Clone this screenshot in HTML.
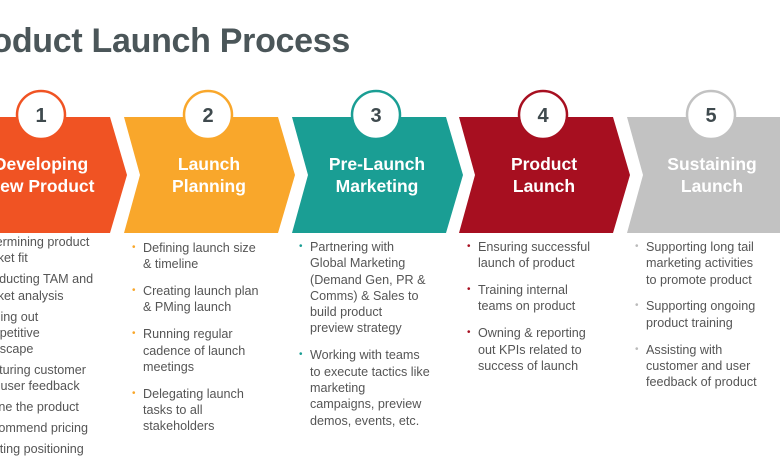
<!DOCTYPE html>
<html><head><meta charset="utf-8"><style>
body{margin:0;width:780px;height:470px;overflow:hidden;background:#fff;position:relative;font-family:"Liberation Sans",sans-serif}
.t{position:absolute;right:430px;top:22px;font-size:34px;font-weight:bold;color:#4b5659;white-space:nowrap;letter-spacing:-0.3px}
svg{position:absolute;left:0;top:0}
.h{position:absolute;top:153px;width:170px;text-align:center;color:#fff;font-weight:bold;font-size:17.5px;line-height:22px;white-space:nowrap}
ul{position:absolute;margin:0;padding:0;list-style:none;font-size:12.6px;line-height:16.3px;color:#555;white-space:nowrap}
li{position:relative;margin-bottom:10.6px}
li:before{content:"•";position:absolute;left:-11px;font-size:10px}
.c1 li{margin-bottom:4.7px}
</style></head><body>
<div class="t">Product Launch Process</div>
<svg width="780" height="470">
<polygon points="-60,117 110,117 127,175 110,233 -60,233" fill="#f05323"/>
<polygon points="124,117 278,117 295,175 278,233 124,233 140,175" fill="#f9a72b"/>
<polygon points="292,117 446,117 463,175 446,233 292,233 308,175" fill="#1a9e94"/>
<polygon points="459,117 613,117 630,175 613,233 459,233 475,175" fill="#a70f20"/>
<polygon points="627,117 800,117 800,233 627,233 643,175" fill="#c2c2c2"/>
<g stroke-width="2.5" fill="#fff">
<circle cx="41" cy="115" r="24" stroke="#f05323"/>
<circle cx="208" cy="115" r="24" stroke="#f9a72b"/>
<circle cx="376" cy="115" r="24" stroke="#1a9e94"/>
<circle cx="543" cy="115" r="24" stroke="#a70f20"/>
<circle cx="711" cy="115" r="24" stroke="#c2c2c2"/>
</g>
<g font-family="Liberation Sans" font-weight="bold" font-size="20" fill="#3f4a4e" text-anchor="middle">
<text x="41" y="122">1</text><text x="208" y="122">2</text><text x="376" y="122">3</text><text x="543" y="122">4</text><text x="711" y="122">5</text>
</g>
</svg>
<div class="h" style="left:-44px">Developing<br>New Product</div>
<div class="h" style="left:124px">Launch<br>Planning</div>
<div class="h" style="left:292px">Pre-Launch<br>Marketing</div>
<div class="h" style="left:459px">Product<br>Launch</div>
<div class="h" style="left:627px">Sustaining<br>Launch</div>
<ul class="c1" style="left:-24px;top:234px;color:#555">
<li style="color:#555">Determining product<br>market fit</li>
<li>Conducting TAM and<br>market analysis</li>
<li>Finding out<br>competitive<br>landscape</li>
<li>Capturing customer<br>and user feedback</li>
<li>Define the product</li>
<li>Recommend pricing</li>
<li>Drafting positioning</li>
</ul>
<style>.c2 li:before{color:#f9a72b}.c3 li:before{color:#1a9e94}.c4 li:before{color:#a70f20}.c5 li:before{color:#bbb}.c1 li:before{color:#f05323}</style>
<ul class="c2" style="left:143px;top:240px">
<li>Defining launch size<br>&amp; timeline</li>
<li>Creating launch plan<br>&amp; PMing launch</li>
<li>Running regular<br>cadence of launch<br>meetings</li>
<li>Delegating launch<br>tasks to all<br>stakeholders</li>
</ul>
<ul class="c3" style="left:310px;top:239px">
<li>Partnering with<br>Global Marketing<br>(Demand Gen, PR &amp;<br>Comms) &amp; Sales to<br>build product<br>preview strategy</li>
<li>Working with teams<br>to execute tactics like<br>marketing<br>campaigns, preview<br>demos, events, etc.</li>
</ul>
<ul class="c4" style="left:478px;top:239px">
<li>Ensuring successful<br>launch of product</li>
<li>Training internal<br>teams on product</li>
<li>Owning &amp; reporting<br>out KPIs related to<br>success of launch</li>
</ul>
<ul class="c5" style="left:646px;top:239px">
<li>Supporting long tail<br>marketing activities<br>to promote product</li>
<li>Supporting ongoing<br>product training</li>
<li>Assisting with<br>customer and user<br>feedback of product</li>
</ul>
</body></html>
